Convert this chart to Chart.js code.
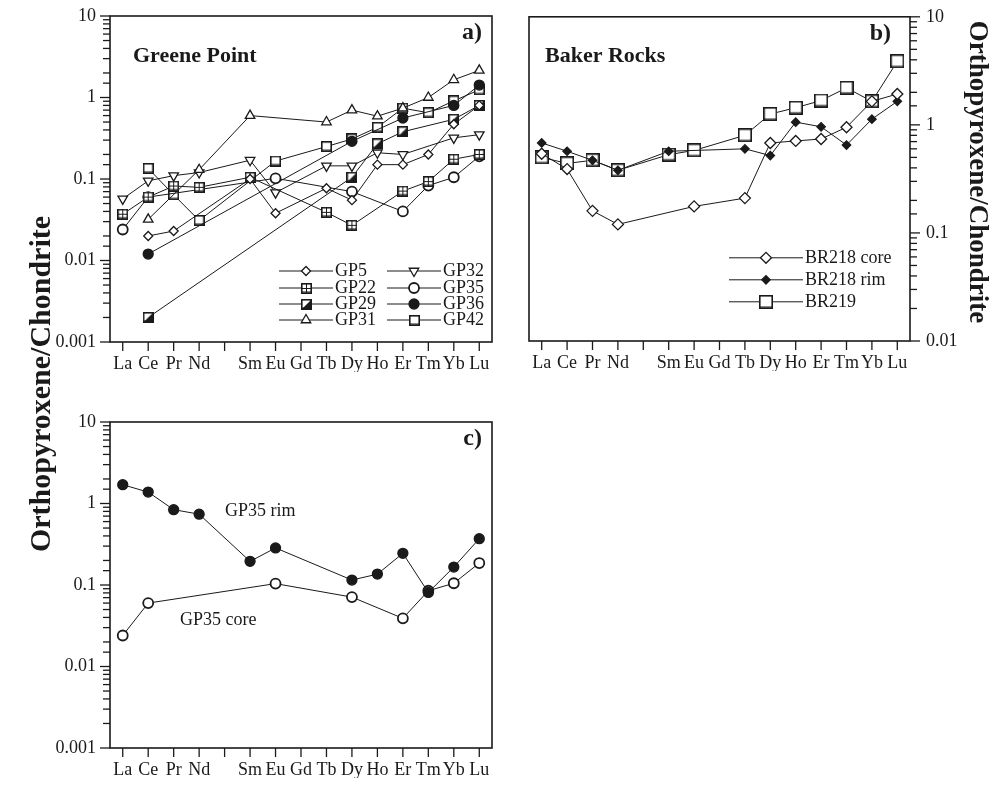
<!DOCTYPE html>
<html>
<head>
<meta charset="utf-8">
<script src="https://cdn.jsdelivr.net/npm/chart.js@4.4.1/dist/chart.umd.min.js"></script>
<style>
  body { margin: 0; background: #fff; }
  #wrap { position: relative; width: 998px; height: 785px; }
  #wrap canvas { position: absolute; left: 0; top: 0; }
</style>
</head>
<body>
<div id="wrap">
  <canvas id="chartA" width="998" height="785"></canvas>
  <canvas id="chartB" width="998" height="785"></canvas>
  <canvas id="chartC" width="998" height="785"></canvas>
</div>
<script>
// REE order (Pm left blank)
var elements = ['La', 'Ce', 'Pr', 'Nd', '', 'Sm', 'Eu', 'Gd', 'Tb', 'Dy', 'Ho', 'Er', 'Tm', 'Yb', 'Lu'];
var decadeValues = [0.001, 0.01, 0.1, 1, 10];
var decadeLabels = ['0.001', '0.01', '0.1', '1', '10'];

// Greene Point orthopyroxenes
var gp5  = [null, 0.020, 0.023, null, null, 0.10, 0.038, null, 0.077, 0.055, 0.15, 0.15, 0.20, 0.47, 0.80];
var gp22 = [0.037, 0.060, 0.082, 0.079, null, 0.105, null, null, 0.039, 0.027, null, 0.071, 0.093, 0.175, 0.20];
var gp29 = [null, 0.002, null, null, null, null, null, null, null, 0.105, 0.27, 0.38, null, 0.54, 0.80];
var gp31 = [null, 0.032, null, 0.13, null, 0.60, null, null, 0.50, 0.70, 0.59, 0.74, 1.0, 1.65, 2.15];
var gp32 = [0.057, 0.095, 0.11, 0.12, null, 0.17, 0.068, null, 0.145, 0.145, 0.21, 0.20, null, 0.32, 0.35];
var gp35 = [0.024, 0.060, null, null, null, null, 0.102, null, null, 0.070, null, 0.040, 0.083, 0.105, 0.19];
var gp36 = [null, 0.012, null, null, null, null, null, null, null, 0.29, null, 0.56, null, 0.80, 1.42];
var gp42 = [null, 0.135, 0.064, 0.031, null, null, 0.166, null, 0.25, 0.31, 0.43, 0.74, 0.65, 0.91, 1.24];

// Baker Rocks
var br218core = [0.54, 0.39, 0.16, 0.12, null, null, 0.176, null, 0.21, 0.68, 0.71, 0.74, 0.95, 1.65, 1.93];
var br218rim  = [0.68, 0.57, 0.47, 0.38, null, 0.57, null, null, 0.60, 0.52, 1.06, 0.96, 0.65, 1.13, 1.65];
var br219     = [0.50, 0.44, 0.47, 0.38, null, 0.53, 0.58, null, 0.80, 1.26, 1.44, 1.68, 2.2, 1.65, 3.87];

// GP35 core vs rim
var gp35core = [0.024, 0.060, null, null, null, null, 0.104, null, null, 0.071, null, 0.039, 0.085, 0.105, 0.186];
var gp35rim  = [1.70, 1.38, 0.84, 0.74, null, 0.195, 0.285, null, null, 0.115, 0.136, 0.245, 0.081, 0.166, 0.37];

var INK = '#1a1a1a';
var SERIF = "'Liberation Serif', 'DejaVu Serif', serif";
Chart.defaults.font.family = SERIF;
Chart.defaults.color = INK;

// small square markers drawn once into offscreen canvases
function squareMarker(size, kind) {
  var c = document.createElement('canvas');
  c.width = size; c.height = size;
  var g = c.getContext('2d');
  g.fillStyle = '#fff';
  g.fillRect(0, 0, size, size);
  g.fillStyle = '#8a8a8a';
  g.fillRect(1, size - 3, size - 2, 2);
  if (kind === 'grid') {
    g.strokeStyle = INK; g.lineWidth = 1;
    g.beginPath();
    g.moveTo(size / 2, 1); g.lineTo(size / 2, size - 1);
    g.moveTo(1, size / 2); g.lineTo(size - 1, size / 2);
    g.stroke();
  }
  if (kind === 'half') {
    g.fillStyle = INK;
    g.beginPath();
    g.moveTo(size, 0); g.lineTo(size, size); g.lineTo(0, size);
    g.closePath(); g.fill();
  }
  g.strokeStyle = INK; g.lineWidth = 1.6;
  g.strokeRect(0.8, 0.8, size - 1.6, size - 1.6);
  return c;
}
var sqGrid = squareMarker(11, 'grid');
var sqHalf = squareMarker(11, 'half');
var sqOpen = squareMarker(11, 'open');
var sqBig  = squareMarker(14, 'open');

function series(label, data, style, extra) {
  var ds = {
    label: label, data: data, spanGaps: true, tension: 0,
    borderColor: INK, borderWidth: 1,
    pointStyle: style, pointRadius: 5,
    pointBackgroundColor: '#fff', pointBorderColor: INK, pointBorderWidth: 1.3
  };
  for (var k in extra) ds[k] = extra[k];
  return ds;
}

function yAxis(pos, min, width, pad, tickLen) {
  return {
    type: 'logarithmic', position: pos, min: min, max: 10,
    afterFit: function (s) { s.width = width; },
    border: { display: false },
    grid: { drawOnChartArea: false, drawTicks: true, tickLength: tickLen, tickColor: 'rgba(0,0,0,0)' },
    ticks: {
      autoSkip: false, padding: pad, color: INK, font: { size: 18 },
      callback: function (v) {
        for (var i = 0; i < decadeValues.length; i++) {
          if (Math.abs(v - decadeValues[i]) < decadeValues[i] * 1e-6) return decadeLabels[i];
        }
        return '';
      }
    }
  };
}

var xAxis = {
  type: 'category', labels: elements, offset: true,
  afterFit: function (s) { s.height = 30; },
  border: { display: false },
  grid: { drawOnChartArea: false, drawTicks: true, tickLength: 9, tickColor: 'rgba(0,0,0,0)' },
  ticks: { autoSkip: false, maxRotation: 0, padding: 2, color: INK, font: { size: 18 } }
};

// frame, ticks, legend and text inside each panel
var framePlugin = {
  id: 'frame',
  afterDraw: function (chart, args, opts) {
    var ctx = chart.ctx, a = chart.chartArea;
    var x = chart.scales.x, y = chart.scales.y;
    ctx.save();
    ctx.strokeStyle = INK;
    ctx.lineWidth = 1.6;
    ctx.strokeRect(a.left, a.top, a.right - a.left, a.bottom - a.top);

    ctx.lineWidth = 1.3;
    var side = y.position === 'right' ? 1 : -1;
    var x0 = side > 0 ? a.right : a.left;
    y.ticks.forEach(function (t) {
      var py = y.getPixelForValue(t.value);
      var l = Math.log10(t.value);
      var len = Math.abs(l - Math.round(l)) < 1e-6 ? 10 : 7;
      ctx.beginPath(); ctx.moveTo(x0, py); ctx.lineTo(x0 + side * len, py); ctx.stroke();
    });
    x.ticks.forEach(function (t, i) {
      var px = x.getPixelForTick(i);
      ctx.beginPath(); ctx.moveTo(px, a.bottom); ctx.lineTo(px, a.bottom + 9); ctx.stroke();
    });

    ctx.fillStyle = INK;
    ctx.textBaseline = 'middle';
    (opts.texts || []).forEach(function (t) {
      ctx.save();
      ctx.font = t.font;
      ctx.textAlign = t.align || 'left';
      ctx.translate(t.abs ? t.x : a.left + t.x, t.abs ? t.y : a.top + t.y);
      if (t.rot) ctx.rotate(t.rot);
      ctx.fillText(t.text, 0, 0);
      ctx.restore();
    });

    var lg = opts.legend;
    if (lg) {
      ctx.font = '18px ' + SERIF;
      ctx.textAlign = 'left';
      lg.items.forEach(function (it) {
        var ds = chart.data.datasets[it[0]];
        var lx = a.left + lg.cols[it[1]], ly = a.top + lg.rows[it[2]];
        ctx.strokeStyle = INK; ctx.lineWidth = 1;
        ctx.beginPath(); ctx.moveTo(lx, ly); ctx.lineTo(lx + lg.len, ly); ctx.stroke();
        var mx = lx + lg.len / 2;
        if (ds.pointStyle instanceof HTMLCanvasElement) {
          ctx.drawImage(ds.pointStyle, Math.round(mx - ds.pointStyle.width / 2), Math.round(ly - ds.pointStyle.height / 2));
        } else {
          ctx.fillStyle = ds.pointBackgroundColor;
          ctx.strokeStyle = ds.pointBorderColor;
          ctx.lineWidth = ds.pointBorderWidth;
          Chart.helpers.drawPoint(ctx, {
            pointStyle: ds.pointStyle, radius: ds.pointRadius,
            rotation: ds.pointRotation || 0, borderWidth: ds.pointBorderWidth
          }, mx, ly);
        }
        ctx.fillStyle = INK;
        ctx.fillText(ds.label, lx + lg.len + 2, ly);
      });
    }
    ctx.restore();
  }
};

function makeChart(id, datasets, yMin, yPos, padding, frame) {
  var yW = yPos === 'left' ? 110 : 60;
  return new Chart(document.getElementById(id), {
    type: 'line',
    data: { labels: elements, datasets: datasets },
    options: {
      responsive: false, animation: false,
      layout: { padding: padding },
      scales: {
        x: xAxis,
        y: yPos === 'left' ? yAxis('left', yMin, yW, 2, 12) : yAxis('right', yMin, yW, 6, 10)
      },
      plugins: { legend: { display: false }, tooltip: { enabled: false }, frame: frame }
    },
    plugins: [framePlugin]
  });
}

var BOLD = 'bold 22px ' + SERIF;

// a) Greene Point
makeChart('chartA', [
  series('GP5', gp5, 'rectRot', { pointRadius: 4.5 }),
  series('GP22', gp22, sqGrid),
  series('GP29', gp29, sqHalf),
  series('GP31', gp31, 'triangle', { pointRadius: 5.5 }),
  series('GP32', gp32, 'triangle', { pointRadius: 5.5, pointRotation: 180 }),
  series('GP35', gp35, 'circle', { pointBorderWidth: 1.8 }),
  series('GP36', gp36, 'circle', { pointBackgroundColor: INK }),
  series('GP42', gp42, sqOpen)
], 0.001, 'left', { left: 0, top: 16, right: 506, bottom: 413 }, {
  texts: [
    { text: 'Greene Point', x: 23, y: 40, font: BOLD },
    { text: 'a)', x: 372, y: 17, font: 'bold 24px ' + SERIF, align: 'right' },
    { text: 'Orthopyroxene/Chondrite', x: 42, y: 384, abs: true, rot: -Math.PI / 2,
      font: 'bold 30px ' + SERIF, align: 'center' }
  ],
  legend: {
    len: 54, cols: [169, 277], rows: [255, 272, 288, 304],
    items: [[0, 0, 0], [1, 0, 1], [2, 0, 2], [3, 0, 3], [4, 1, 0], [5, 1, 1], [6, 1, 2], [7, 1, 3]]
  }
});

// b) Baker Rocks
makeChart('chartB', [
  series('BR218 core', br218core, 'rectRot', { pointRadius: 5.5 }),
  series('BR218 rim', br218rim, 'rectRot', { pointRadius: 4.2, pointBackgroundColor: INK }),
  series('BR219', br219, sqBig)
], 0.01, 'right', { left: 529, top: 16, right: 28, bottom: 414 }, {
  texts: [
    { text: 'Baker Rocks', x: 16, y: 40, font: BOLD },
    { text: 'b)', x: 362, y: 17, font: 'bold 24px ' + SERIF, align: 'right' },
    { text: 'Orthopyroxene/Chondrite', x: 977, y: 172, abs: true, rot: Math.PI / 2,
      font: 'bold 27px ' + SERIF, align: 'center' }
  ],
  legend: {
    len: 74, cols: [200], rows: [241, 263, 285],
    items: [[0, 0, 0], [1, 0, 1], [2, 0, 2]]
  }
});

// c) GP35 core and rim
makeChart('chartC', [
  series('GP35 rim', gp35rim, 'circle', { pointBackgroundColor: INK }),
  series('GP35 core', gp35core, 'circle', { pointBorderWidth: 1.8 })
], 0.001, 'left', { left: 0, top: 422, right: 506, bottom: 7 }, {
  texts: [
    { text: 'c)', x: 372, y: 17, font: 'bold 24px ' + SERIF, align: 'right' },
    { text: 'GP35 rim', x: 115, y: 89, font: '18px ' + SERIF },
    { text: 'GP35 core', x: 70, y: 198, font: '18px ' + SERIF }
  ]
});
</script>
</body>
</html>
